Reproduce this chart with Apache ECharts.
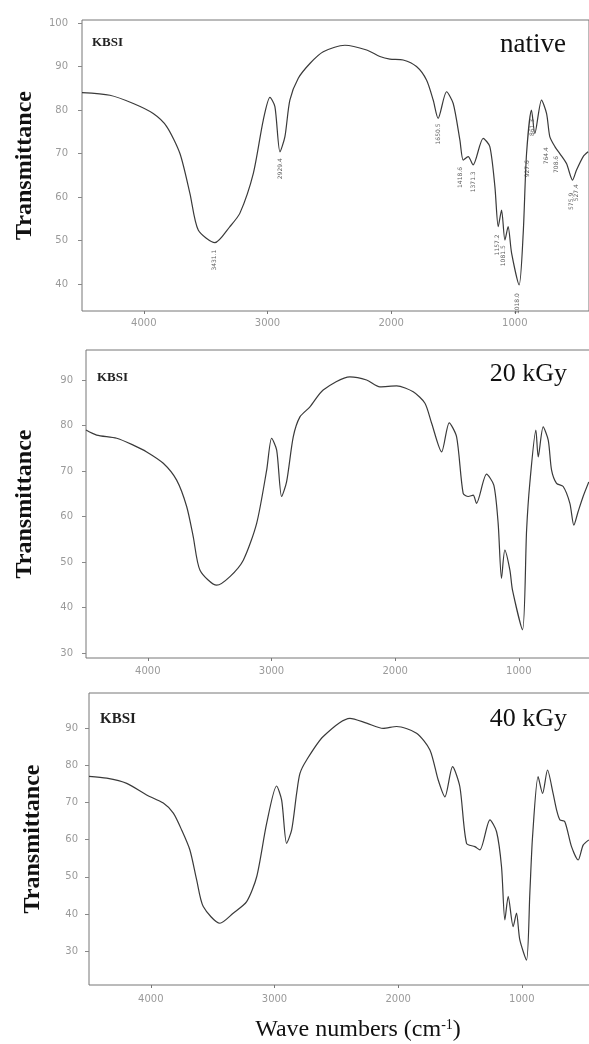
<!DOCTYPE html>
<html>
<head>
<meta charset="utf-8">
<script src="https://cdn.jsdelivr.net/npm/echarts@6/dist/echarts.min.js"></script>
<style>
  html, body { margin: 0; padding: 0; background: #fff; }
  #main { width: 589px; height: 1044px; }
</style>
</head>
<body>
<div id="main"></div>
<script>
// FTIR spectra: [wave number (cm-1), transmittance]
const nativeSpectrum = [
  [4500, 84.0], [4274, 83.4], [4085, 81.5], [3924, 79.2], [3815, 76.2], [3708, 70.0],
  [3627, 60.8], [3560, 52.4], [3425, 49.5], [3304, 53.2], [3223, 56.3], [3115, 65.4],
  [3034, 77.7], [2980, 82.9], [2940, 80.8], [2899, 70.4], [2859, 73.9], [2819, 82.3],
  [2751, 87.3], [2657, 90.7], [2549, 93.4], [2374, 94.9], [2198, 93.8], [2091, 92.3],
  [2010, 91.7], [1903, 91.5], [1795, 90.0], [1714, 86.9], [1660, 82.3], [1620, 78.1],
  [1552, 84.2], [1498, 81.5], [1444, 73.1], [1417, 68.5], [1377, 69.3], [1337, 67.4],
  [1256, 73.5], [1202, 71.6], [1161, 62.4], [1134, 53.2], [1107, 57.0], [1080, 50.1],
  [1054, 53.2], [1026, 47.1], [965, 39.8], [932, 51.7], [905, 70.0], [865, 80.0],
  [838, 74.6], [784, 82.3], [743, 79.2], [717, 73.9], [676, 71.6], [636, 70.0],
  [582, 67.7], [533, 63.9], [501, 66.2], [447, 69.3], [407, 70.4]
];
const kGy20Spectrum = [
  [4500, 79.0], [4414, 77.9], [4252, 77.2], [4118, 75.7], [4009, 74.2], [3875, 71.7],
  [3767, 68.0], [3686, 62.2], [3633, 55.6], [3578, 48.2], [3443, 44.9], [3336, 46.8],
  [3228, 50.4], [3120, 58.5], [3039, 70.2], [2999, 77.2], [2958, 74.6], [2918, 64.4],
  [2878, 67.6], [2824, 77.5], [2770, 81.9], [2689, 84.1], [2582, 87.8], [2366, 90.7],
  [2231, 90.0], [2123, 88.5], [1988, 88.7], [1854, 87.4], [1759, 84.9], [1705, 80.5],
  [1624, 74.2], [1563, 80.6], [1503, 77.5], [1450, 65.1], [1409, 64.4], [1369, 64.7],
  [1342, 62.9], [1261, 69.3], [1202, 66.9], [1167, 58.5], [1140, 46.4], [1113, 52.6],
  [1072, 48.2], [1051, 43.8], [970, 35.1], [937, 57.0], [911, 67.3], [862, 79.0],
  [843, 73.1], [803, 79.7], [762, 76.8], [735, 70.2], [695, 67.3], [641, 66.6],
  [587, 62.9], [555, 58.1], [520, 61.1], [480, 64.4], [434, 67.6]
];
const kGy40Spectrum = [
  [4500, 77.0], [4357, 76.5], [4195, 75.1], [4034, 72.0], [3899, 69.8], [3818, 67.1],
  [3751, 62.6], [3684, 57.2], [3629, 49.1], [3576, 42.0], [3441, 37.5], [3334, 40.2],
  [3225, 43.3], [3144, 50.0], [3063, 64.4], [2983, 74.4], [2942, 70.6], [2902, 59.0],
  [2861, 62.6], [2821, 72.4], [2794, 77.8], [2740, 81.4], [2606, 87.7], [2390, 92.6],
  [2255, 91.3], [2121, 89.9], [2012, 90.4], [1851, 88.6], [1743, 84.1], [1676, 76.0],
  [1622, 71.5], [1560, 79.6], [1501, 74.2], [1447, 59.0], [1380, 58.1], [1339, 57.2],
  [1258, 65.3], [1204, 62.1], [1164, 52.7], [1137, 38.4], [1110, 44.7], [1070, 36.6],
  [1043, 40.2], [1016, 33.0], [962, 27.6], [935, 45.6], [913, 60.8], [868, 76.9],
  [832, 72.4], [792, 78.7], [747, 72.4], [719, 68.0], [692, 65.3], [652, 64.8],
  [598, 58.1], [544, 54.5], [504, 58.5], [458, 59.9]
];

// peak labels printed by the instrument under the native spectrum
const peakWave  = [3425, 2899, 1620, 1440, 1337, 1137, 1088, 975, 894, 854, 741, 660, 539, 499];
const peakValue = [45.5, 66.5, 74.5, 64.5, 63.5, 49.0, 46.5, 35.5, 66.5, 76.0, 69.5, 67.5, 59.0, 61.0];
const peakText  = ['3431.1', '2929.4', '1650.5', '1418.6', '1371.3', '1157.2', '1081.5',
                   '1018.0', '927.6', '861.3', '764.4', '708.6', '575.9', '527.4'];

const panelNames = ['native', '20 kGy', '40 kGy'];
const waveTicks = [1000, 2000, 3000, 4000];
const transTicks = [
  [40, 50, 60, 70, 80, 90, 100],
  [30, 40, 50, 60, 70, 80, 90],
  [30, 40, 50, 60, 70, 80, 90]
];
const transRange = [[33.8, 100.7], [28.9, 96.6], [20.9, 99.4]];

const grids = [
  { left: 82, top: 20, width: 507, height: 291 },
  { left: 86, top: 350, width: 507, height: 308 },
  { left: 89, top: 693, width: 507, height: 292 }
];
const nameGaps = [45, 49, 44];
const labelMargins = [7, 8, 9];
const yLabelMargins = [14, 13, 11];

const myChart = echarts.init(document.getElementById('main'));
const serif = '"Liberation Serif", "DejaVu Serif", serif';
const lineColor = '#3a3a3a';

const option = {
  backgroundColor: '#fff',
  animation: false,
  grid: grids.map(g => Object.assign({
    show: true, borderColor: '#777', borderWidth: 1, backgroundColor: 'transparent',
    outerBoundsMode: 'none', containLabel: false
  }, g)),
  xAxis: grids.map((g, i) => ({
    type: 'value',
    gridIndex: i,
    inverse: true,
    min: 400,
    max: 4500,
    axisLine: { show: false },
    splitLine: { show: false },
    axisTick: { show: true, customValues: waveTicks, length: 3, lineStyle: { color: '#777' } },
    axisLabel: {
      customValues: waveTicks,
      formatter: v => String(v),
      margin: labelMargins[i],
      color: '#9a9a9a',
      fontSize: 10,
      fontFamily: 'DejaVu Sans'
    }
  })),
  yAxis: grids.map((g, i) => ({
    type: 'value',
    gridIndex: i,
    min: transRange[i][0],
    max: transRange[i][1],
    name: 'Transmittance',
    nameLocation: 'middle',
    nameGap: nameGaps[i],
    nameTextStyle: { fontFamily: serif, fontWeight: 'bold', fontSize: 24, color: '#111' },
    axisLine: { show: false },
    splitLine: { show: false },
    axisTick: { show: true, customValues: transTicks[i], length: 4, lineStyle: { color: '#888' } },
    axisLabel: {
      customValues: transTicks[i],
      formatter: v => String(v),
      margin: yLabelMargins[i],
      color: '#9a9a9a',
      fontSize: 10,
      fontFamily: 'DejaVu Sans'
    }
  })),
  graphic: [
    { type: 'text', x: 92, y: 43, style: { text: 'KBSI', font: 'bold 13px ' + serif, fill: '#222', verticalAlign: 'middle' } },
    { type: 'text', x: 97, y: 378, style: { text: 'KBSI', font: 'bold 13px ' + serif, fill: '#222', verticalAlign: 'middle' } },
    { type: 'text', x: 100, y: 719, style: { text: 'KBSI', font: 'bold 15px ' + serif, fill: '#222', verticalAlign: 'middle' } },
    { type: 'text', x: 566, y: 45, style: { text: panelNames[0], font: '27px ' + serif, fill: '#111', align: 'right', verticalAlign: 'middle' } },
    { type: 'text', x: 567, y: 374, style: { text: panelNames[1], font: '26px ' + serif, fill: '#111', align: 'right', verticalAlign: 'middle' } },
    { type: 'text', x: 567, y: 719, style: { text: panelNames[2], font: '26px ' + serif, fill: '#111', align: 'right', verticalAlign: 'middle' } },
    {
      type: 'text', x: 358, y: 1030,
      style: {
        text: 'Wave numbers (cm{s|-1})',
        font: '24px ' + serif,
        fill: '#111',
        align: 'center',
        verticalAlign: 'middle',
        rich: { s: { fontSize: 14, fontFamily: serif, verticalAlign: 'top', lineHeight: 24, fill: '#111' } }
      }
    }
  ],
  series: [
    {
      type: 'line', xAxisIndex: 0, yAxisIndex: 0,
      data: nativeSpectrum, showSymbol: false, smooth: 0.25,
      lineStyle: { color: lineColor, width: 1.2 }
    },
    {
      type: 'line', xAxisIndex: 1, yAxisIndex: 1,
      data: kGy20Spectrum, showSymbol: false, smooth: 0.25,
      lineStyle: { color: lineColor, width: 1.2 }
    },
    {
      type: 'line', xAxisIndex: 2, yAxisIndex: 2,
      data: kGy40Spectrum, showSymbol: false, smooth: 0.25,
      lineStyle: { color: lineColor, width: 1.2 }
    },
    {
      type: 'scatter', xAxisIndex: 0, yAxisIndex: 0,
      symbolSize: 0,
      data: peakWave.map((w, k) => ({ value: [w, peakValue[k]], name: peakText[k] })),
      label: {
        show: true, position: 'inside', rotate: 90,
        formatter: p => p.name,
        fontSize: 6, color: '#333', fontFamily: 'DejaVu Sans'
      }
    }
  ]
};

myChart.setOption(option, true);
</script>
</body>
</html>
